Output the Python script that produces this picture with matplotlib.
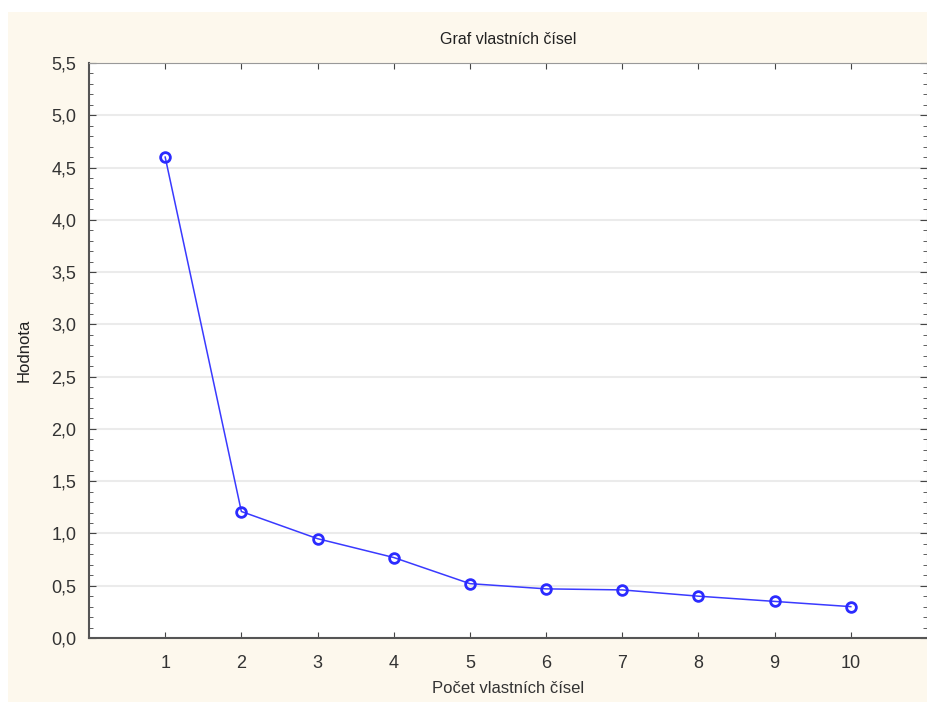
import matplotlib
matplotlib.use("Agg")
import matplotlib.pyplot as plt
from matplotlib.patches import Rectangle
from matplotlib.ticker import MultipleLocator, FuncFormatter

# values
pocet = [1, 2, 3, 4, 5, 6, 7, 8, 9, 10]
hodnota = [4.60, 1.21, 0.95, 0.77, 0.52, 0.47, 0.46, 0.40, 0.35, 0.30]

plt.rcParams['font.family'] = ['Liberation Sans', 'DejaVu Sans']

W, H = 928, 702
fig = plt.figure(figsize=(W / 100, H / 100), dpi=100, facecolor='white')
# cream background panel (small white margin top/left)
fig.patches.append(Rectangle((8 / W, 0), 1 - 8 / W, 1 - 12 / H, transform=fig.transFigure,
                             facecolor='#fdf8ed', edgecolor='none', zorder=-10))

ax = fig.add_axes([89 / W, (H - 638) / H, 838 / W, (638 - 63) / H])
ax.set_facecolor('white')

ax.plot(pocet, hodnota, color='#3a3aff', linewidth=1.1, marker='o', markersize=7,
        markerfacecolor='none', markeredgecolor='#2b2bff', markeredgewidth=2, zorder=3)

ax.set_xlim(0, 11)
ax.set_ylim(0, 5.5)
ax.set_xticks(pocet)
ax.yaxis.set_major_locator(MultipleLocator(0.5))
ax.yaxis.set_minor_locator(MultipleLocator(0.1))
ax.yaxis.set_major_formatter(FuncFormatter(lambda v, p: ('%.1f' % v).replace('.', ',')))

ax.grid(axis='y', which='major', color='#ebebeb', linewidth=1.5)
ax.set_axisbelow(True)

ax.tick_params(axis='both', which='both', direction='in', colors='#444444',
               labelcolor='#333333', labelsize=13)
ax.tick_params(axis='y', which='both', right=True)
ax.tick_params(axis='x', which='both', top=True)
ax.tick_params(axis='y', which='major', length=5, pad=9)
ax.tick_params(axis='y', which='minor', length=3)
ax.tick_params(axis='x', which='major', length=4, pad=12)

for s in ['left', 'bottom']:
    ax.spines[s].set_color('#555555')
    ax.spines[s].set_linewidth(1.5)
ax.spines['top'].set_color('#999999')
ax.spines['right'].set_color('#bbbbbb')

ax.set_title('Graf vlastních čísel', fontsize=11.5, color='#222222', pad=14)
ax.set_xlabel('Počet vlastních čísel', fontsize=12, color='#333333', labelpad=7)
ax.set_ylabel('Hodnota', fontsize=12, color='#222222', labelpad=14)

fig.savefig('out.png', dpi=100)
